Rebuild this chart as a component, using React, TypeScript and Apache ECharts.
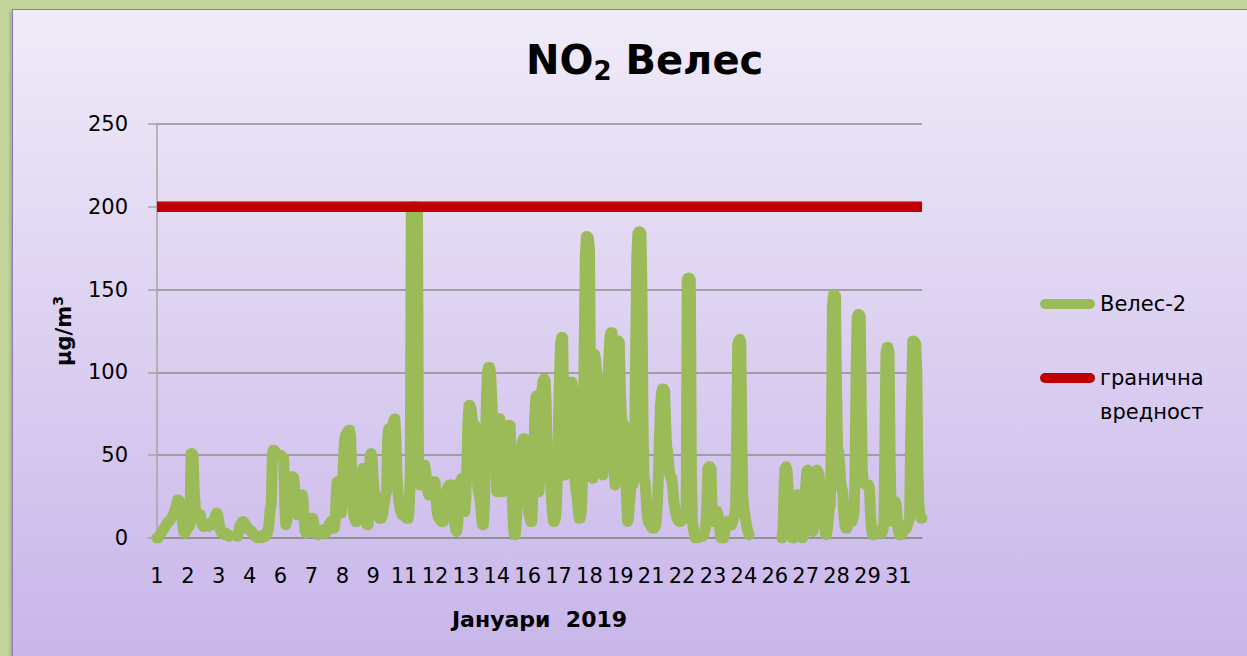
import React, { useEffect, useRef } from 'react';
import * as echarts from 'echarts';

// Hourly NO2 concentrations at station Велес-2, January 2019 (µg/m³), one array per day
const d01 = [0, 0, 1, 2, 3, 4, 5, 6, 7, 8, 9, 10, 10, 11, 12, 13, 14, 16, 18, 20, 23, 23, 22, 20];
const d02 = [15, 8, 4, 3, 4, 5, 6, 7, 8, 51, 51, 50, 30, 20, 16, 14, 13, 14, 14, 10, 8, 7, 7, 8];
const d03 = [8, 8, 7, 8, 9, 8, 9, 10, 12, 14, 15, 14, 10, 6, 4, 3, 3, 2, 3, 3, 2, 2, 1, null];
const d04 = [null, null, null, null, null, null, 1, 3, 6, 8, 9, 10, 10, 9, 8, 7, 6, 5, 5, 4, 4, 3, 2, 1];
const d05 = [1, 1, 0, 1, 1, 0, 1, 1, 2, 1, 2, 3, 5, 10, 18, 20, 50, 53, 53, 52, 51, 50, 50, 49];
const d06 = [50, 49, 49, 48, 20, 8, 10, 15, 22, 30, 35, 37, 37, 36, 25, 15, 14, 14, 18, 24, 26, 26, 22, 10];
const d07 = [4, 3, 4, 6, 9, 11, 12, 12, 10, 6, 3, 3, 2, 2, 3, 4, 3, 4, 5, 4, 3, 4, 6, 8];
const d08 = [9, 10, 10, 8, 6, 10, 25, 34, 34, 30, 20, 15, 25, 45, 58, 62, 63, 64, 65, 65, 62, 40, 20, 14];
const d09 = [12, 10, 10, 12, 14, 20, 30, 40, 42, 38, 25, 15, 8, 8, 30, 50, 51, 48, 35, 28, 25, 22, 18, 14];
const d10 = [12, 12, 12, 14, 18, 22, 26, 28, 60, 66, 62, 55, 60, 68, 71, 72, 60, 40, 28, 22, 18, 16, 14, 16];
const d11 = [14, 13, 12, 12, 12, 18, 40, 199, 200, 200, 199, 199, 200, 198, 40, 32, 34, 38, 42, 44, 44, 40, 34, 28];
const d12 = [26, 28, 30, 32, 34, 34, 34, 25, 16, 13, 12, 11, 10, 10, 10, 14, 22, 28, 30, 31, 32, 32, 32, 32];
const d13 = [20, 10, 5, 4, 8, 20, 30, 35, 36, 28, 18, 16, 25, 45, 70, 80, 80, 78, 72, 68, 68, 68, 50, 35];
const d14 = [28, 26, 22, 15, 8, 8, 20, 50, 85, 100, 103, 103, 100, 85, 72, 68, 68, 45, 28, 28, 60, 72, 50, 28];
const d15 = [28, 35, 50, 62, 66, 68, 68, 68, 50, 25, 8, 2, 2, 10, 28, 35, 42, 50, 55, 58, 60, 60, 45, 25];
const d16 = [20, 15, 12, 10, 10, 25, 50, 75, 85, 86, 50, 28, 40, 70, 90, 95, 96, 95, 80, 50, 40, 38, 38, 25];
const d17 = [15, 10, 10, 12, 20, 40, 70, 100, 118, 121, 121, 80, 38, 40, 55, 70, 80, 90, 94, 94, 90, 60, 35, 28];
const d18 = [25, 18, 12, 12, 15, 30, 60, 120, 170, 182, 182, 181, 175, 100, 40, 36, 80, 111, 108, 100, 95, 93, 93, 60];
const d19 = [45, 38, 55, 75, 88, 90, 95, 110, 122, 124, 124, 80, 40, 32, 70, 115, 119, 118, 90, 74, 70, 68, 68, 45];
const d20 = [25, 10, 12, 22, 30, 32, 32, 35, 60, 120, 170, 184, 185, 185, 184, 150, 70, 35, 34, 25, 15, 10, 10, 8];
const d21 = [8, 6, 6, 6, 7, 10, 20, 38, 60, 80, 88, 90, 90, 89, 70, 55, 52, 45, 38, 36, 36, 30, 22, 18];
const d22 = [15, 12, 11, 10, 10, 10, 11, 12, 12, 13, 20, 156, 157, 157, 156, 40, 10, 5, 2, 0, 0, 0, 1, 2];
const d23 = [2, 2, 1, 2, 4, 8, 20, 42, 43, 43, 42, 20, 10, 10, 12, 15, 16, 14, 8, 3, 0, 0, 0, 2];
const d24 = [5, 8, 10, 10, 9, 8, 8, 10, 12, 14, 20, 60, 117, 119, 120, 118, 60, 25, 18, 14, 10, 6, 4, 2];
const d25 = [null, null, null, null, null, null, null, null, null, null, null, null, null, null, null, null, null, null, null, null, null, null, null, null];
const d26 = [null, null, null, null, null, null, null, 0, 5, 30, 42, 43, 40, 30, 25, 24, 10, 0, 0, 2, 10, 20, 26, 26];
const d27 = [24, 10, 2, 0, 2, 10, 30, 40, 41, 40, 30, 15, 5, 4, 12, 30, 40, 41, 40, 38, 30, 28, 28, 20];
const d28 = [8, 3, 2, 5, 12, 18, 20, 60, 140, 147, 147, 146, 90, 55, 52, 45, 34, 30, 28, 15, 8, 6, 6, 8];
const d29 = [10, 10, 10, 10, 12, 15, 40, 100, 133, 135, 135, 134, 80, 40, 34, 33, 33, 32, 32, 32, 30, 15, 5, 2];
const d30 = [2, 2, 3, 4, 4, 4, 4, 3, 3, 5, 10, 60, 112, 115, 115, 112, 50, 15, 10, 12, 18, 22, 20, 10];
const d31 = [5, 2, 2, 2, 3, 5, 6, 6, 6, 8, 10, 12, 60, 90, 119, 119, 118, 117, 100, 40, 20, 14, 12, 12];

const days = [d01, d02, d03, d04, d05, d06, d07, d08, d09, d10, d11, d12, d13, d14, d15, d16,
  d17, d18, d19, d20, d21, d22, d23, d24, d25, d26, d27, d28, d29, d30, d31];

// category per hour: the day of month
const hourLabels = days.flatMap((d, i) => d.map(() => String(i + 1)));
const veles2 = days.flat();
const limitValue = 200;
const limitLine = veles2.map(() => limitValue);

const seriesNames = ['Велес-2', 'гранична вредност'];
const yMin = 0;
const yMax = 250;
const yStep = 50;

const FONT = '"DejaVu Sans", "Noto Sans", sans-serif';

export default function App() {
  const ref = useRef<HTMLDivElement>(null);

  useEffect(() => {
    if (!ref.current) return;
    const chart = echarts.init(ref.current, null, { renderer: 'svg' });
    chart.setOption({
      animation: false,
      title: {
        text: '{a|NO}{b|2}{a| Велес}',
        left: 526,
        top: 36,
        padding: 0,
        textStyle: {
          rich: {
            a: { fontSize: 40, fontWeight: 'bold', fontFamily: FONT, color: '#000', lineHeight: 48 },
            b: { fontSize: 26, fontWeight: 'bold', fontFamily: FONT, color: '#000', verticalAlign: 'bottom', lineHeight: 30, padding: [14, 0, 0, 0] },
          },
        },
      },
      legend: {
        orient: 'vertical',
        left: 1040,
        top: 287,
        padding: 0,
        itemWidth: 55,
        itemHeight: 11,
        itemGap: 6,
        icon: 'path://M5 0H50A5 5 0 0 1 50 10H5A5 5 0 0 1 5 0Z',
        selectedMode: false,
        formatter: (name: string) => (name === seriesNames[1] ? '\nгранична\nвредност' : name),
        textStyle: { fontSize: 21, fontFamily: FONT, color: '#000', lineHeight: 34 },
        data: [{ name: seriesNames[0] }, { name: seriesNames[1] }],
      },
      grid: { left: 157, right: 325, top: 124, bottom: 118, containLabel: false },
      xAxis: {
        type: 'category',
        data: hourLabels,
        boundaryGap: false,
        axisLine: { show: true, lineStyle: { color: '#8E8E8E', width: 1.5 } },
        axisTick: { show: false },
        axisLabel: { interval: 29, margin: 27, fontSize: 21, color: '#000', fontFamily: FONT },
        splitLine: { show: false },
        name: 'Јануари  2019',
        nameLocation: 'middle',
        nameGap: 70,
        nameTextStyle: { fontSize: 22, fontWeight: 'bold', fontFamily: FONT, color: '#000' },
      },
      yAxis: {
        type: 'value',
        min: yMin,
        max: yMax,
        interval: yStep,
        axisLine: { show: true, lineStyle: { color: '#A5A5A5', width: 1.5 } },
        axisTick: { show: true, length: 9, lineStyle: { color: '#A5A5A5', width: 1.5 } },
        axisLabel: { margin: 29, fontSize: 21, color: '#000', fontFamily: FONT },
        splitLine: { show: true, lineStyle: { color: '#8E8E8E', width: 1.5 } },
        name: '{a|µg/m}{b|3}',
        nameLocation: 'middle',
        nameRotate: 90,
        nameGap: 80,
        nameTextStyle: {
          rich: {
            a: { fontSize: 21, fontWeight: 'bold', fontFamily: FONT, color: '#000', lineHeight: 26 },
            b: { fontSize: 14, fontWeight: 'bold', fontFamily: FONT, color: '#000', verticalAlign: 'top', lineHeight: 26 },
          },
        },
      },
      series: [
        {
          name: seriesNames[0],
          type: 'line',
          data: veles2,
          symbol: 'none',
          showSymbol: false,
          connectNulls: false,
          lineStyle: { color: '#9BBB59', width: 11, join: 'round', cap: 'round' },
          itemStyle: { color: '#9BBB59' },
          z: 2,
        },
        {
          name: seriesNames[1],
          type: 'line',
          data: limitLine,
          symbol: 'none',
          showSymbol: false,
          lineStyle: { color: '#C00000', width: 10.5, cap: 'butt' },
          itemStyle: { color: '#C00000' },
          z: 3,
        },
      ],
    });
    return () => chart.dispose();
  }, []);

  return (
    <div style={{ position: 'fixed', left: 0, top: 0, width: 1247, height: 656, background: '#C3D69B', overflow: 'hidden' }}>
      <div
        style={{
          position: 'absolute',
          left: 12,
          top: 9,
          width: 1250,
          height: 660,
          boxSizing: 'border-box',
          border: '1.5px solid #8F78BC',
          background: 'linear-gradient(#F0EBF8, #C8B5EA)',
          boxShadow: '-2px 2px 3px rgba(0,0,0,0.18)',
        }}
      />
      <div ref={ref} style={{ position: 'absolute', left: 0, top: 0, width: 1247, height: 656 }} />
    </div>
  );
}
